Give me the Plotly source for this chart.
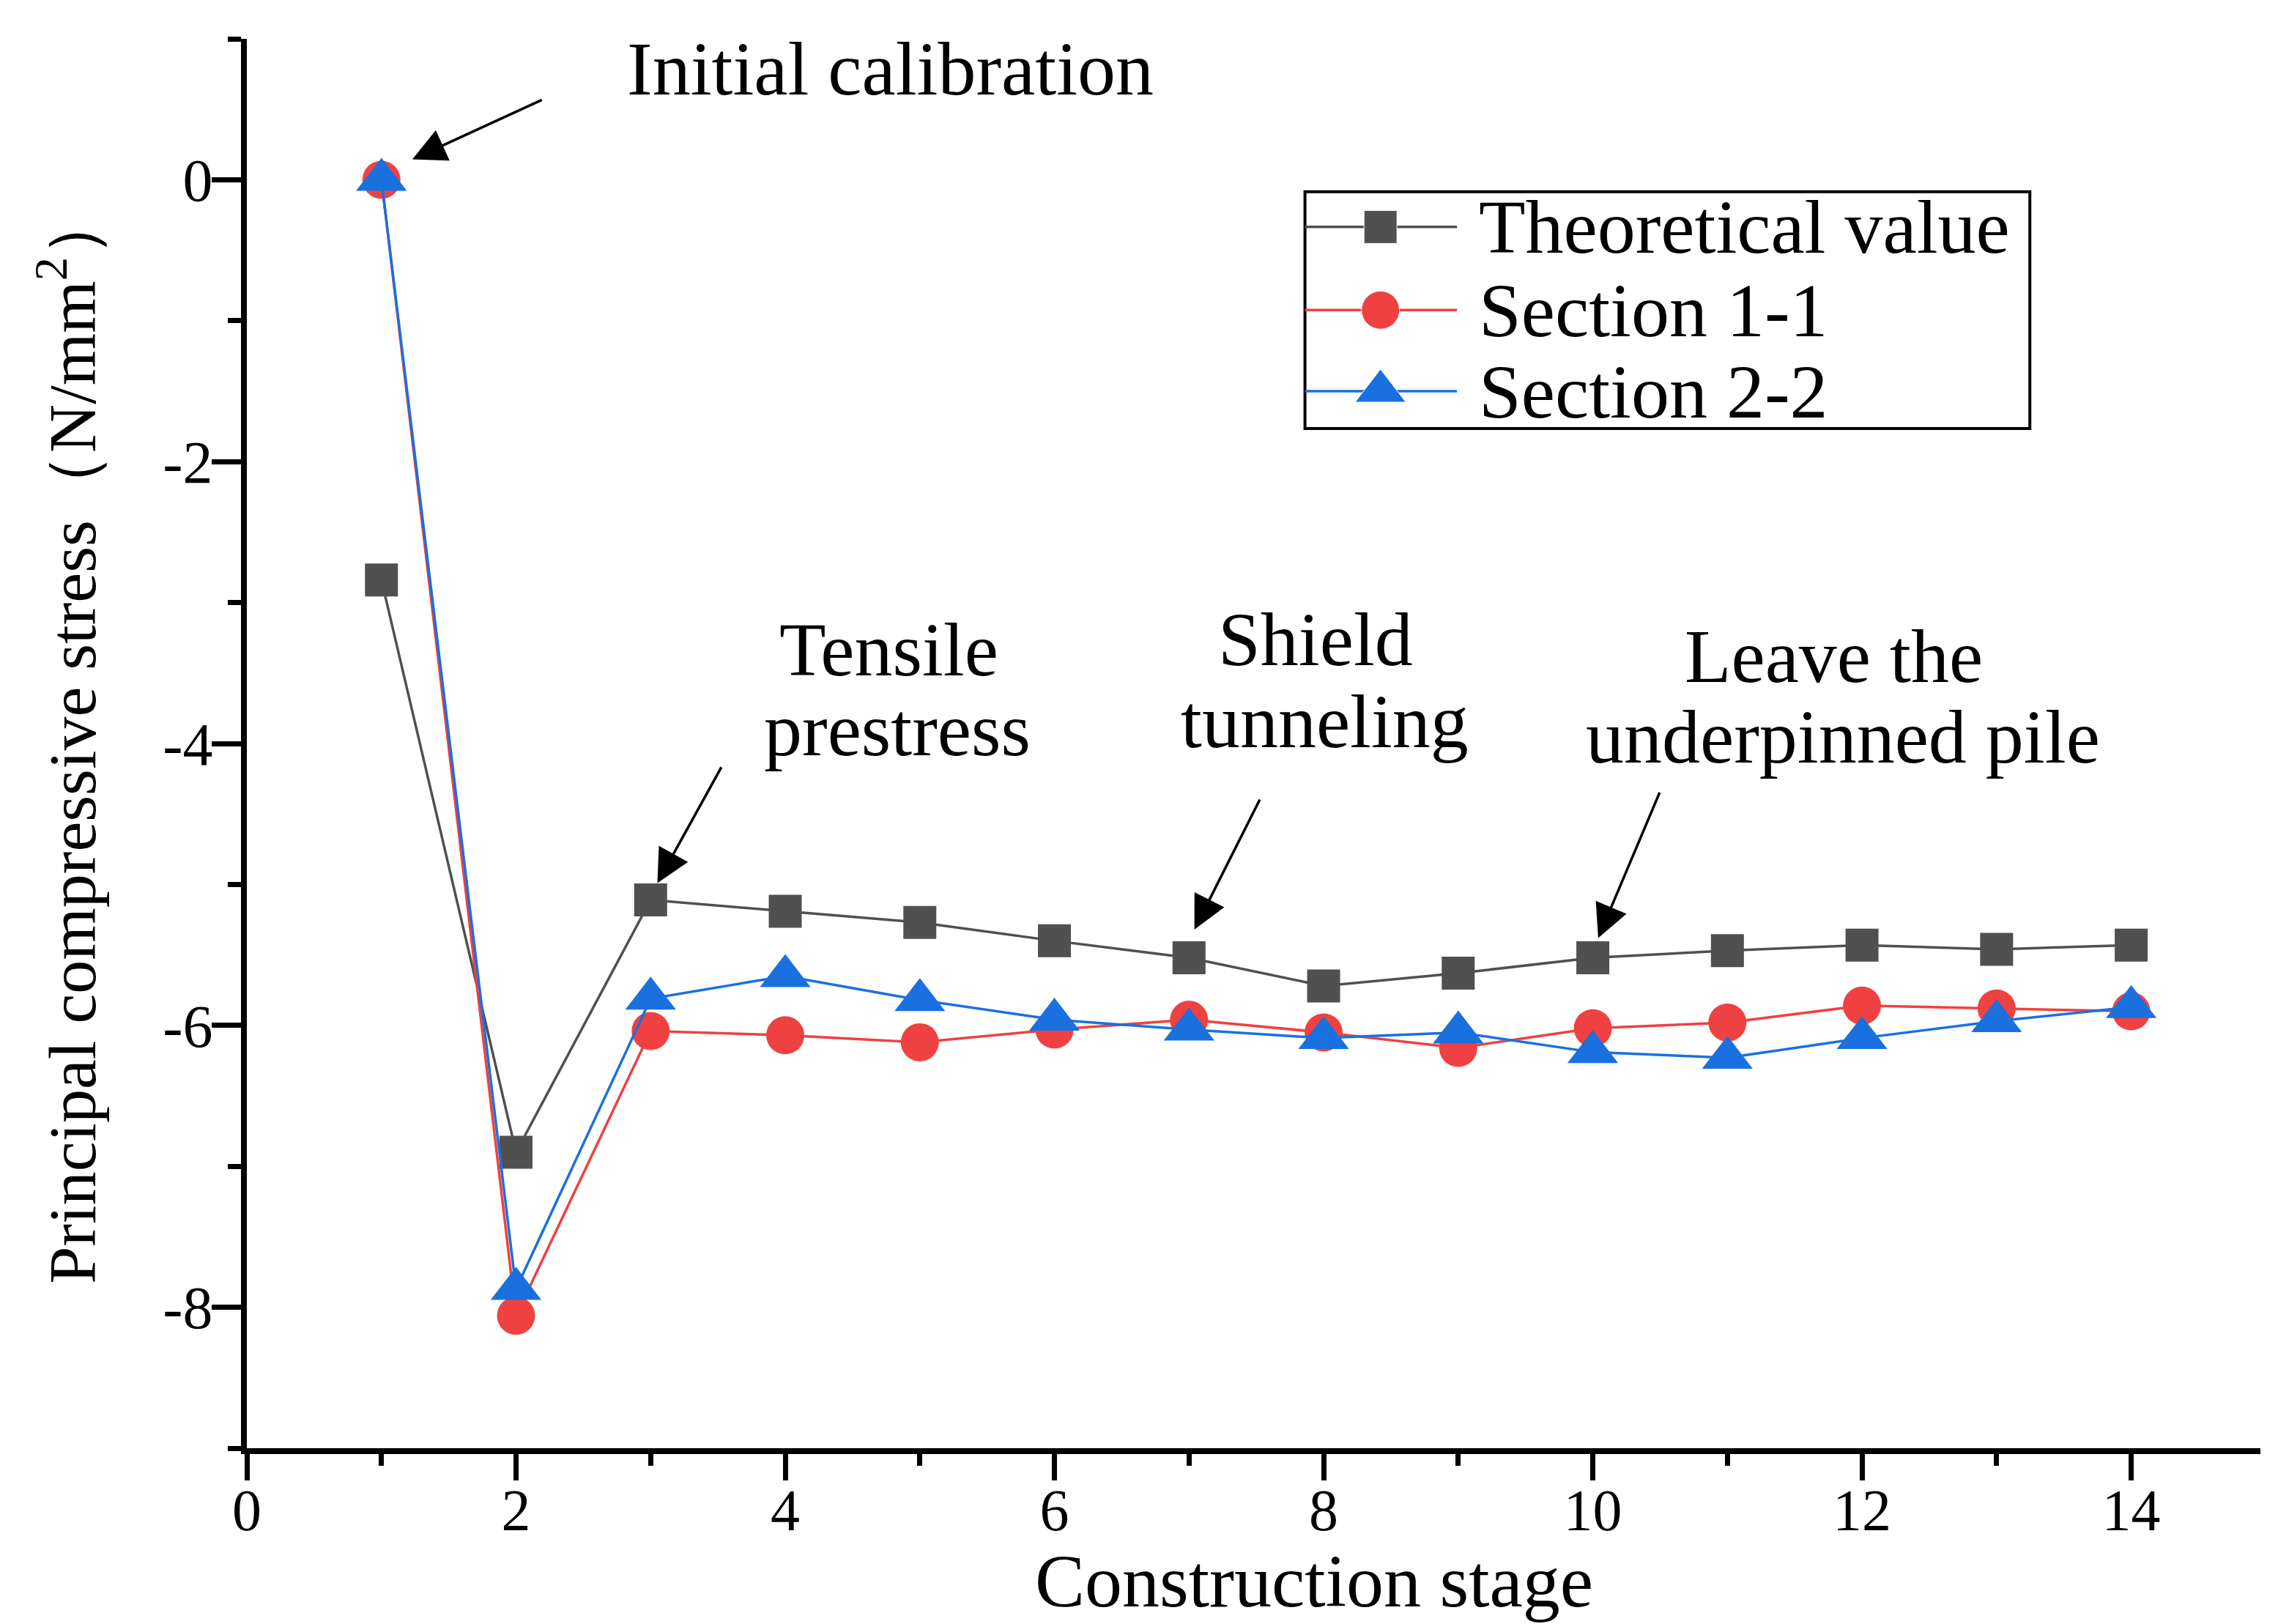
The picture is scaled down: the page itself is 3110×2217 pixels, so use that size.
import plotly.graph_objects as go

stages = [1, 2, 3, 4, 5, 6, 7, 8, 9, 10, 11, 12, 13, 14]
theoretical = [-2.84, -6.90, -5.11, -5.19, -5.27, -5.40, -5.52, -5.72, -5.63, -5.52, -5.47, -5.43, -5.46, -5.43]
section_11 = [0.0, -8.06, -6.04, -6.07, -6.12, -6.03, -5.96, -6.05, -6.16, -6.02, -5.98, -5.86, -5.88, -5.90]
section_22 = [0.0, -7.87, -5.81, -5.65, -5.82, -5.96, -6.03, -6.09, -6.05, -6.19, -6.23, -6.09, -5.97, -5.87]

series_names = ["Theoretical value", "Section 1-1", "Section 2-2"]
x_tickvals = [0, 2, 4, 6, 8, 10, 12, 14]
x_ticktext = ["0", "2", "4", "6", "8", "10", "12", "14"]
y_tickvals = [0, -2, -4, -6, -8]
y_ticktext = ["0", "-2", "-4", "-6", "-8"]

# annotation texts with (x, y) text centres in data units
notes = [
    ("Initial calibration", 4.78, 0.79),
    ("Tensile", 4.77, -3.33),
    ("prestress", 4.83, -3.90),
    ("Shield", 7.94, -3.26),
    ("tunneling", 8.01, -3.84),
    ("Leave the", 11.79, -3.38),
    ("underpinned pile", 11.86, -3.95),
]
# arrows: (head_x, head_y, tail_x, tail_y)
arrows = [
    (1.23, 0.145, 2.20, 0.57),
    (3.05, -4.99, 3.53, -4.16),
    (7.04, -5.32, 7.53, -4.39),
    (10.04, -5.38, 10.50, -4.34),
]

FONT = "Liberation Serif, Times New Roman, serif"
GRAY = "#505050"
RED = "#EF4141"
BLUE = "#1A70DF"
colors = [GRAY, RED, BLUE]
symbols = ["square", "circle", "triangle-up"]
sizes = [45, 52, 60]
series = [theoretical, section_11, section_22]

fig = go.Figure()
for name, vals, c, s, sz in zip(series_names, series, colors, symbols, sizes):
    fig.add_trace(go.Scatter(x=stages, y=vals, name=name, mode="lines+markers",
                             line=dict(color=c, width=3.5),
                             marker=dict(symbol=s, size=sz, color=c, opacity=1),
                             showlegend=False))

# custom legend (overlay axes with range [0, 1])
leg_x0, leg_x1 = 0.5255, 0.8855
leg_y0, leg_y1 = 0.7235, 0.8915
row_y = [0.8665, 0.8075, 0.7500]
key_x0, key_xm, key_x1 = 0.5255, 0.563, 0.601
text_x = 0.611
for name, c, s, sz, ry in zip(series_names, colors, symbols, sizes, row_y):
    fig.add_trace(go.Scatter(x=[key_x0, key_xm, key_x1], y=[ry, ry, ry], mode="lines+markers",
                             xaxis="x2", yaxis="y2", showlegend=False, hoverinfo="skip",
                             line=dict(color=c, width=3.5),
                             marker=dict(symbol=s, size=[0, sz, 0], color=c, opacity=1)))

annotations = []
for txt, x, y in notes:
    annotations.append(dict(text=txt, x=x, y=y, xref="x", yref="y", showarrow=False,
                            xanchor="center", yanchor="middle",
                            font=dict(family=FONT, size=104, color="black")))
for hx, hy, tx, ty in arrows:
    annotations.append(dict(text="", x=hx, y=hy, xref="x", yref="y", ax=tx, ay=ty,
                            axref="x", ayref="y", showarrow=True, arrowhead=2,
                            arrowsize=2.6, arrowwidth=3.5, arrowcolor="black", standoff=0))
for name, ry in zip(series_names, row_y):
    annotations.append(dict(text=name, x=text_x, y=ry, xref="paper", yref="paper",
                            showarrow=False, xanchor="left", yanchor="middle",
                            font=dict(family=FONT, size=104, color="black")))
annotations.append(dict(text="Construction stage", x=0.53, y=-0.0945, xref="paper", yref="paper",
                        showarrow=False, xanchor="center", yanchor="middle",
                        font=dict(family=FONT, size=102, color="black")))
annotations.append(dict(text="Principal compressive stress（N/mm<sup>2</sup>）", x=-0.089, y=0.505,
                        xref="paper", yref="paper", textangle=-90,
                        showarrow=False, xanchor="center", yanchor="middle",
                        font=dict(family=FONT, size=92, color="black")))

fig.update_layout(
    width=3110, height=2217,
    margin=dict(l=329, r=32, t=45, b=248),
    paper_bgcolor="white", plot_bgcolor="white",
    font=dict(family=FONT, size=80, color="black"),
    showlegend=False,
    annotations=annotations,
    shapes=[dict(type="rect", xref="paper", yref="paper", x0=leg_x0, x1=leg_x1, y0=leg_y0, y1=leg_y1,
                 line=dict(color="black", width=4), fillcolor="white", layer="below")],
    xaxis=dict(range=[0, 14.96], showgrid=False, zeroline=False,
               showline=True, linecolor="black", linewidth=8,
               ticks="outside", ticklen=36, tickwidth=7, tickcolor="black",
               tickmode="array", tickvals=x_tickvals, ticktext=x_ticktext,
               ticklabelstandoff=-28,
               tickfont=dict(family=FONT, size=80, color="black"),
               minor=dict(dtick=1, tick0=0, ticks="outside", ticklen=16, tickwidth=7,
                          tickcolor="black", showgrid=False)),
    yaxis=dict(range=[-9, 1], showgrid=False, zeroline=False,
               showline=True, linecolor="black", linewidth=8,
               ticks="outside", ticklen=40, tickwidth=7, tickcolor="black",
               tickmode="array", tickvals=y_tickvals, ticktext=y_ticktext,
               ticklabelstandoff=-18,
               tickfont=dict(family=FONT, size=82, color="black"),
               minor=dict(dtick=1, tick0=0, ticks="outside", ticklen=18, tickwidth=7,
                          tickcolor="black", showgrid=False)),
    xaxis2=dict(overlaying="x", range=[0, 1], visible=False, anchor="y2"),
    yaxis2=dict(overlaying="y", range=[0, 1], visible=False, anchor="x2"),
)

fig.write_html("out.html")
